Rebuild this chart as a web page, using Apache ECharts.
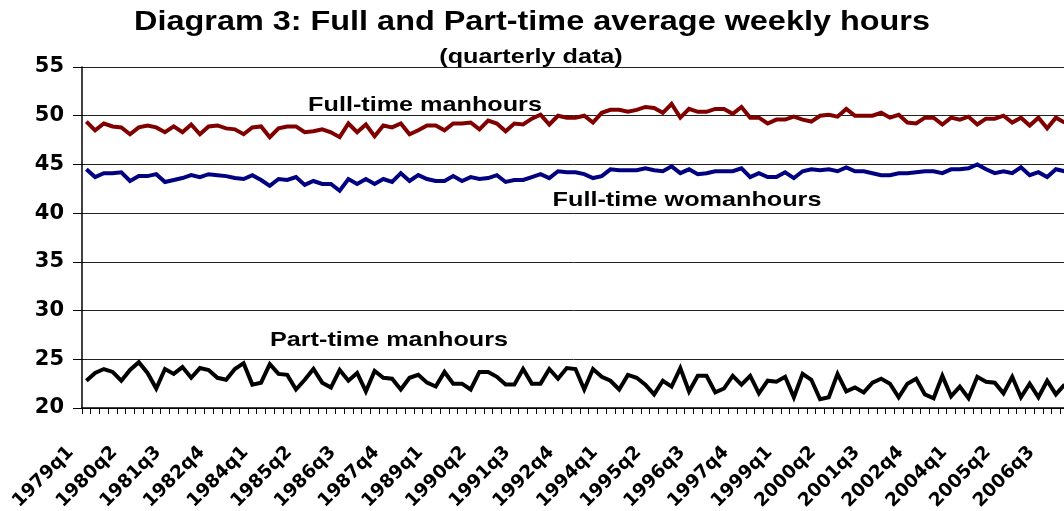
<!DOCTYPE html>
<html>
<head>
<meta charset="utf-8">
<title>Diagram 3</title>
<script src="https://cdn.jsdelivr.net/npm/echarts@6/dist/echarts.min.js"></script>
<style>
  html, body { margin: 0; padding: 0; background: #fff; }
  #chart { width: 1064px; height: 511px; }
</style>
</head>
<body>
<div id="chart"></div>
<script>
// -- Quarterly categories, 1979q1 .. 2007q1 --
const startYear = 1979;
const quarterCount = 113;
const quarters = [];
for (let i = 0; i < quarterCount; i++) {
  quarters.push((startYear + Math.floor(i / 4)) + 'q' + (i % 4 + 1));
}

// -- Series values (hours per week) --
const fullTimeMen = [
  49.4, 48.5, 49.2, 48.9, 48.8, 48.1, 48.8, 49.0, 48.8, 48.3, 48.9, 48.3, 49.1, 48.1,
  48.9, 49.0, 48.7, 48.6, 48.1, 48.8, 48.9, 47.8, 48.7, 48.9, 48.9, 48.3, 48.4, 48.6,
  48.3, 47.8, 49.2, 48.3, 49.1, 47.9, 49.0, 48.8, 49.2, 48.1, 48.5, 49.0, 49.0, 48.5,
  49.2, 49.2, 49.3, 48.6, 49.5, 49.2, 48.4, 49.2, 49.1, 49.7, 50.1, 49.1, 50.0, 49.8,
  49.8, 50.0, 49.3, 50.3, 50.6, 50.6, 50.4, 50.6, 50.9, 50.8, 50.3, 51.2, 49.8, 50.7,
  50.4, 50.4, 50.7, 50.7, 50.2, 50.9, 49.8, 49.8, 49.2, 49.6, 49.6, 49.9, 49.6, 49.4, 50.0,
  50.1, 49.9, 50.7, 50.0, 50.0, 50.0, 50.3, 49.8, 50.1, 49.3, 49.2, 49.8, 49.8, 49.1,
  49.8, 49.6, 49.9, 49.1, 49.7, 49.7, 50.0, 49.3, 49.8, 49.0, 49.8, 48.7, 49.8, 49.3
];
const fullTimeWomen = [
  44.5, 43.7, 44.1, 44.1, 44.2, 43.3, 43.8, 43.8, 44.0, 43.2, 43.4, 43.6, 43.9, 43.7,
  44.0, 43.9, 43.8, 43.6, 43.5, 43.9, 43.4, 42.8, 43.5, 43.4, 43.7, 42.9, 43.3, 43.0,
  43.0, 42.3, 43.5, 43.0, 43.5, 43.0, 43.5, 43.2, 44.1, 43.3, 43.9, 43.5, 43.3, 43.3,
  43.8, 43.3, 43.7, 43.5, 43.6, 43.9, 43.2, 43.4, 43.4, 43.7, 44.0, 43.6, 44.3, 44.2,
  44.2, 44.0, 43.6, 43.8, 44.5, 44.4, 44.4, 44.4, 44.6, 44.4, 44.3, 44.8, 44.1, 44.5,
  44.0, 44.1, 44.3, 44.3, 44.3, 44.6, 43.7, 44.1, 43.7, 43.7, 44.2, 43.6, 44.3, 44.5, 44.4,
  44.5, 44.3, 44.7, 44.3, 44.3, 44.1, 43.9, 43.9, 44.1, 44.1, 44.2, 44.3, 44.3, 44.1,
  44.5, 44.5, 44.6, 45.0, 44.5, 44.1, 44.3, 44.1, 44.7, 43.9, 44.2, 43.7, 44.5, 44.3
];
const partTimeMen = [
  22.8, 23.6, 24.0, 23.7, 22.8, 23.9, 24.7, 23.6, 22.0, 24.0, 23.5, 24.2, 23.1, 24.1,
  23.9, 23.1, 22.9, 24.0, 24.6, 22.4, 22.6, 24.5, 23.5, 23.4, 21.9, 22.9, 24.0, 22.6,
  22.1, 23.9, 22.8, 23.6, 21.7, 23.8, 23.1, 23.0, 21.9, 23.1, 23.4, 22.6, 22.2, 23.7,
  22.5, 22.5, 21.9, 23.7, 23.7, 23.2, 22.4, 22.4, 24.0, 22.5, 22.5, 24.0, 23.0, 24.1,
  24.0, 21.9, 24.0, 23.2, 22.8, 21.9, 23.4, 23.1, 22.4, 21.4, 22.8, 22.2, 24.1, 21.7,
  23.3, 23.3, 21.6, 22.0, 23.3, 22.4, 23.3, 21.5, 22.8, 22.7, 23.2, 21.1, 23.5, 22.9, 20.9,
  21.1, 23.5, 21.7, 22.1, 21.6, 22.6, 23.0, 22.5, 21.1, 22.5, 23.0, 21.4, 21.0, 23.3,
  21.2, 22.2, 21.0, 23.2, 22.7, 22.6, 21.5, 23.2, 21.1, 22.5, 21.1, 22.8, 21.4, 22.4
];

// -- Text --
const titleText = 'Diagram 3: Full and Part-time average weekly hours';
const subtitleText = '(quarterly data)';
const seriesNames = ['Full-time manhours', 'Full-time womanhours', 'Part-time manhours'];
const seriesColors = ['#800000', '#000080', '#000000'];

// Excel-style Arial, stretched a little wider
const ARIAL = '"Liberation Sans", Arial, sans-serif';
const STRETCH = 1.2;

function stretchedText(text, x, y, size) {
  return {
    type: 'text',
    x: x,
    y: y,
    scaleX: STRETCH,
    silent: true,
    style: {
      text: text,
      font: 'bold ' + size + 'px ' + ARIAL,
      fill: '#000',
      align: 'center',
      verticalAlign: 'middle'
    }
  };
}

const chart = echarts.init(document.getElementById('chart'), null, { renderer: 'canvas' });

chart.setOption({
  animation: false,
  backgroundColor: '#fff',
  grid: {
    left: 82, right: -5, top: 67, bottom: 103,
    containLabel: false,
    outerBoundsMode: 'none'  // keep the plot box fixed, labels may run to the edge
  },
  xAxis: {
    type: 'category',
    data: quarters,
    boundaryGap: true,
    axisLine: { show: true, lineStyle: { color: '#000', width: 1.5 } },
    axisTick: { show: true, interval: 0, length: 6, lineStyle: { color: '#000' } },
    axisLabel: {
      interval: 4,
      rotate: 45,
      margin: 26,
      padding: [0, 22, 0, 0],
      color: '#000',
      fontFamily: 'DejaVu Sans',
      fontWeight: 'bold',
      fontSize: 18.5
    },
    splitLine: { show: false }
  },
  yAxis: {
    type: 'value',
    min: 20,
    max: 55,
    interval: 5,
    axisLine: { show: true, lineStyle: { color: '#000', width: 1.5 } },
    axisTick: { show: true, length: 9, lineStyle: { color: '#000' } },
    axisLabel: {
      margin: 18,
      color: '#000',
      fontFamily: 'DejaVu Sans',
      fontWeight: 'bold',
      fontSize: 21
    },
    splitLine: { show: true, lineStyle: { color: '#222', width: 1 } }
  },
  series: [
    { name: seriesNames[0], type: 'line', data: fullTimeMen },
    { name: seriesNames[1], type: 'line', data: fullTimeWomen },
    { name: seriesNames[2], type: 'line', data: partTimeMen }
  ].map((s, i) => Object.assign(s, {
    symbol: 'none',
    smooth: false,
    lineStyle: { color: seriesColors[i], width: 4, join: 'miter' },
    itemStyle: { color: seriesColors[i] }
  })),
  graphic: [
    stretchedText(titleText, 532, 23, 27),
    stretchedText(subtitleText, 531, 57, 21),
    stretchedText(seriesNames[0], 425, 105, 21),
    stretchedText(seriesNames[1], 687, 200, 21),
    stretchedText(seriesNames[2], 389, 340, 21)
  ]
});
</script>
</body>
</html>
